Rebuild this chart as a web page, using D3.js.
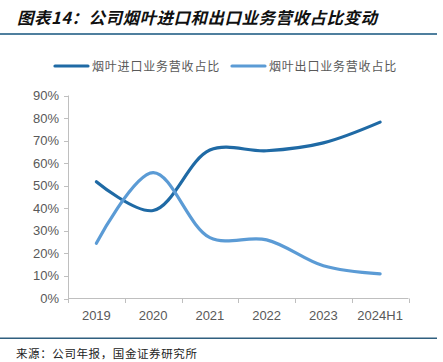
<!DOCTYPE html>
<html>
<head>
<meta charset="utf-8">
<script src="https://cdn.jsdelivr.net/npm/d3@7"></script>
<style>
  body { margin: 0; background: #fff; }
  svg { display: block; }
</style>
</head>
<body>
<svg id="chart"></svg>
<script>
// Data (%)
var years = ["2019", "2020", "2021", "2022", "2023", "2024H1"];
var importShare = [51.8, 39.0, 65.8, 65.5, 69.0, 78.2];
var exportShare = [24.5, 55.8, 27.0, 26.0, 14.5, 10.9];
var seriesNames = ["烟叶进口业务营收占比", "烟叶出口业务营收占比"];
var yTicks = [0, 10, 20, 30, 40, 50, 60, 70, 80, 90];

var width = 443, height = 362;
var colors = ["#1f6aa5", "#5b9bd5"];
var cjk = "'Noto Sans CJK SC', sans-serif";

var svg = d3.select("#chart").attr("width", width).attr("height", height);

// Title and rule below it
svg.append("text")
    .attr("x", 17).attr("y", 24)
    .style("font-family", cjk)
    .style("font-size", "16.5px")
    .style("font-weight", "bold")
    .style("font-style", "italic")
    .style("letter-spacing", "0.5px")
    .attr("fill", "#111")
    .text("图表14：公司烟叶进口和出口业务营收占比变动");
svg.append("rect").attr("x", 0).attr("y", 33).attr("width", 437).attr("height", 2).attr("fill", "#4f7f9e");

// Plot area
var x = d3.scaleBand().domain(years).range([68, 408.5]);
var y = d3.scaleLinear().domain([0, 90]).range([298.5, 95.5]);

var g = svg.append("g");

// y axis
g.append("line").attr("x1", 68.5).attr("x2", 68.5).attr("y1", y(90)).attr("y2", y(0))
    .attr("stroke", "#bfbfbf");
g.selectAll("line.ytick").data(yTicks).enter().append("line").attr("class", "ytick")
    .attr("x1", 64).attr("x2", 68.5)
    .attr("y1", function (d) { return Math.round(y(d)) + 0.5; })
    .attr("y2", function (d) { return Math.round(y(d)) + 0.5; })
    .attr("stroke", "#bfbfbf");
g.selectAll("text.ylab").data(yTicks).enter().append("text").attr("class", "ylab")
    .attr("x", 59).attr("y", function (d) { return y(d) + 4.5; })
    .attr("text-anchor", "end")
    .style("font-family", "'Liberation Sans', Arial, sans-serif")
    .style("font-size", "13px")
    .attr("fill", "#595959")
    .text(function (d) { return d + "%"; });

// x axis
g.append("line").attr("x1", 68).attr("x2", 408.5).attr("y1", 298.5).attr("y2", 298.5)
    .attr("stroke", "#bfbfbf");
var xEdges = years.map(function (d) { return x(d); }).concat([x.range()[1]]);
g.selectAll("line.xtick").data(xEdges).enter().append("line").attr("class", "xtick")
    .attr("x1", function (d) { return Math.round(d) + 0.5; })
    .attr("x2", function (d) { return Math.round(d) + 0.5; })
    .attr("y1", 298.5).attr("y2", 303)
    .attr("stroke", "#bfbfbf");
g.selectAll("text.xlab").data(years).enter().append("text").attr("class", "xlab")
    .attr("x", function (d) { return x(d) + x.bandwidth() / 2; })
    .attr("y", 320)
    .attr("text-anchor", "middle")
    .style("font-family", "'Liberation Sans', Arial, sans-serif")
    .style("font-size", "13px")
    .attr("fill", "#595959")
    .text(function (d) { return d; });

// Smoothed lines
var line = d3.line()
    .x(function (d, i) { return x(years[i]) + x.bandwidth() / 2; })
    .y(function (d) { return y(d); })
    .curve(d3.curveCatmullRom.alpha(0.5));

[importShare, exportShare].forEach(function (vals, i) {
    g.append("path")
        .attr("d", line(vals))
        .attr("fill", "none")
        .attr("stroke", colors[i])
        .attr("stroke-width", 3.2)
        .attr("stroke-linecap", "round");
});

// Legend
var legendX = [55, 232];
seriesNames.forEach(function (name, i) {
    svg.append("line")
        .attr("x1", legendX[i]).attr("x2", legendX[i] + 33)
        .attr("y1", 66).attr("y2", 66)
        .attr("stroke", colors[i]).attr("stroke-width", 3.2)
        .attr("stroke-linecap", "round");
    svg.append("text")
        .attr("x", legendX[i] + 37).attr("y", 70.5)
        .style("font-family", cjk)
        .style("font-size", "12px")
        .style("letter-spacing", "0.8px")
        .attr("fill", "#595959")
        .text(name);
});

// Footer
svg.append("rect").attr("x", 0).attr("y", 337.5).attr("width", 437).attr("height", 1.5).attr("fill", "#2f5f7f");
svg.append("text")
    .attr("x", 16).attr("y", 358)
    .style("font-family", cjk)
    .style("font-size", "11.5px")
    .style("letter-spacing", "0.6px")
    .attr("fill", "#222")
    .text("来源：公司年报，国金证券研究所");
</script>
</body>
</html>
